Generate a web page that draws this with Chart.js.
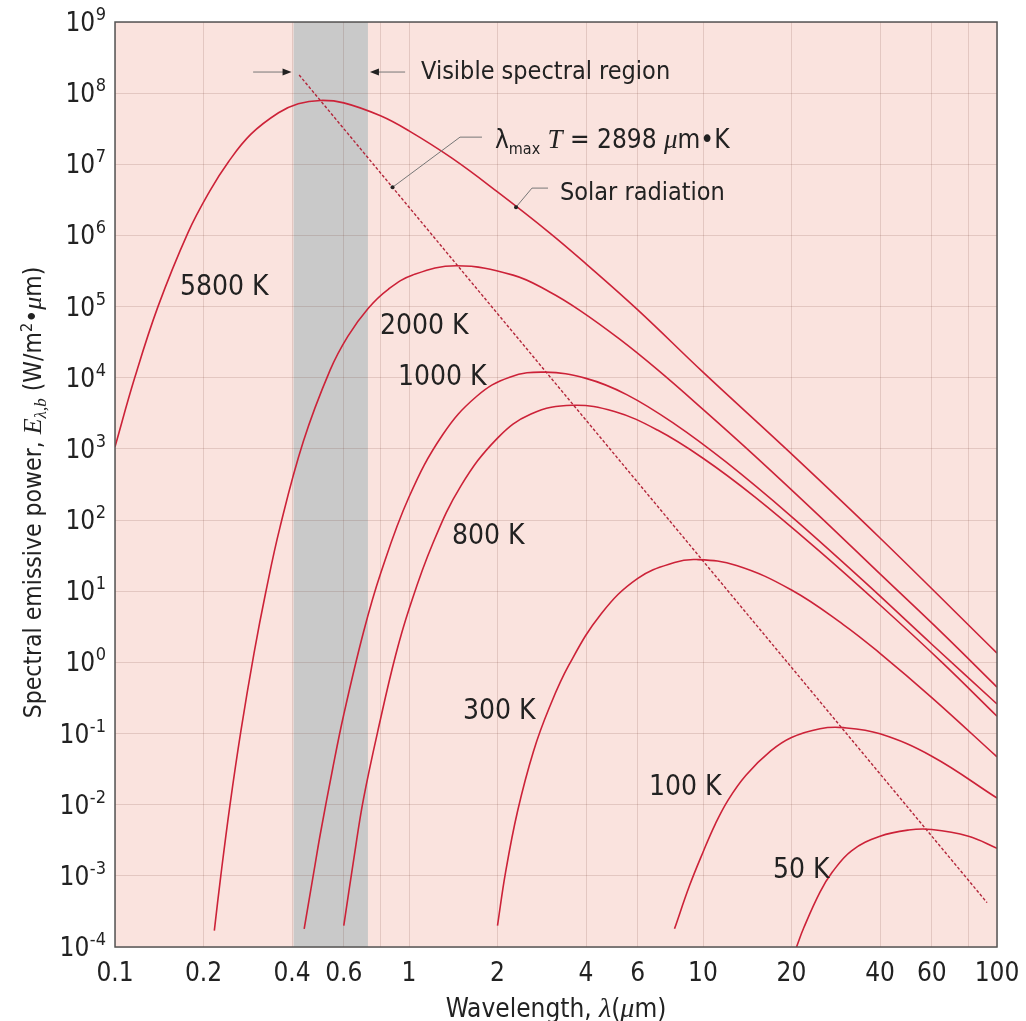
<!DOCTYPE html>
<html>
<head>
<meta charset="utf-8">
<style>
  html, body { margin: 0; padding: 0; background: #fff; }
  #wrap { width: 1026px; height: 1021px; }
</style>
<script src="https://cdn.jsdelivr.net/npm/chart.js@4.4.1/dist/chart.umd.min.js"></script>
</head>
<body>
<div id="wrap"><canvas id="chart" width="1026" height="1021"></canvas></div>
<script>
const SANS = '"DejaVu Sans Condensed", "Liberation Sans Narrow", "Liberation Sans", sans-serif';
const SERIF = '"Liberation Serif", "DejaVu Serif", serif';
const RED = "#cc2238";
const INK = "#222";

// wavelength (um) / spectral emissive power (W/m2.um)
const lam5800 = [0.1, 0.1166, 0.14, 0.177, 0.21, 0.243, 0.29, 0.36, 0.42, 0.5, 0.6, 0.8, 1.0, 1.4, 2, 3, 4, 6, 10, 20, 40, 100];
const e5800 = [1.07e3, 9.9e3, 1.0e5, 1.09e6, 4.2e6, 1.08e7, 2.65e7, 5.3e7, 7.1e7, 7.9e7, 7.3e7, 4.8e7, 2.95e7, 1.22e7, 4.1e6, 1.1e6, 4.0e5, 9.0e4, 1.2e4, 850, 56, 1.35];

const lam2000 = [0.2177, 0.229, 0.246, 0.268, 0.297, 0.3255, 0.364, 0.437, 0.539, 0.62, 0.727, 0.85, 1.03, 1.45, 2.26, 3, 3.82, 5.22, 7, 10, 15, 25, 40, 65, 100];
const e2000 = [1.7e-4, 1e-3, 9.8e-3, 0.108, 1.34, 9.6, 79, 1.27e3, 1.28e4, 3.85e4, 9.5e4, 1.75e5, 2.78e5, 3.75e5, 2.77e5, 1.62e5, 8.8e4, 3.46e4, 1.3e4, 3.6e3, 800, 112, 17.5, 2.6, 0.45];

const lam1000 = [0.44, 0.48, 0.5, 0.55, 0.6, 0.7, 0.8, 1.0, 1.3, 1.7, 2.2, 2.9, 4, 5.5, 8, 12, 20, 35, 60, 100];
const e1000 = [1.8e-4, 1.5e-3, 4e-3, 0.032, 0.185, 2.65, 17.6, 211, 1.57e3, 5.5e3, 1.02e4, 1.2e4, 9.8e3, 5.8e3, 2.25e3, 650, 112, 14.2, 1.8, 0.26];

const lam800 = [0.6, 0.65, 0.7, 0.8, 0.9, 1.0, 1.2, 1.5, 2.0, 2.6, 3.6, 5, 7, 10, 15, 25, 40, 65, 100];
const e800 = [2.0e-4, 1.8e-3, 0.012, 0.16, 1.25, 5.6, 45, 300, 1.42e3, 3.1e3, 4.1e3, 3.35e3, 1.84e3, 740, 212, 36, 6.4, 1.0, 0.175];

const lam300 = [2.0, 2.13, 2.34, 2.65, 3.0, 3.5, 4.5, 6, 8, 9.5, 13, 20, 30, 40, 60, 100];
const e300 = [2.0e-4, 1.12e-3, 8.1e-3, 0.056, 0.23, 0.92, 4.8, 15.2, 25.4, 27.9, 23, 10.4, 3.4, 1.34, 0.32, 0.047];

const lam100 = [8.0, 9, 10, 11, 12.2, 14, 17, 20, 25, 30, 40, 60, 100];
const e100 = [1.8e-4, 7.3e-4, 2.15e-3, 5.3e-3, 0.0118, 0.026, 0.057, 0.088, 0.117, 0.121, 0.099, 0.048, 0.0124];

const lam50 = [20.8, 22, 25, 27.5, 32, 40, 50, 60, 80, 100];
const e50 = [1e-4, 1.85e-4, 5.9e-4, 1.12e-3, 2.25e-3, 3.6e-3, 4.4e-3, 4.48e-3, 3.6e-3, 2.44e-3];

// lambda_max * T = 2898 um.K locus (dashed)
const lamWien = [0.423, 92.5];
const eWien = [1.8e8, 4.2e-4];

const visibleBand = [0.405, 0.725];

const xGrid = [0.1, 0.2, 0.4, 0.6, 0.8, 1, 2, 4, 6, 10, 20, 40, 60, 80, 100];
const xTickLabels = ["0.1", "0.2", "0.4", "0.6", "", "1", "2", "4", "6", "10", "20", "40", "60", "", "100"];
const yExps = [9, 8, 7, 6, 5, 4, 3, 2, 1, 0, -1, -2, -3, -4];

const curveLabels = ["5800 K", "2000 K", "1000 K", "800 K", "300 K", "100 K", "50 K"];
const labelLam = [0.1664, 0.797, 0.917, 1.40, 1.526, 6.55, 17.3];
const labelE = [1.45e5, 4.1e4, 7.85e3, 45.5, 0.1625, 0.01387, 9.44e-4];

const wienLeaderLam = [0.879, 1.491, 1.771];
const wienLeaderE = [4.75e6, 2.41e7, 2.41e7];
const solarLeaderLam = [2.312, 2.62, 2.97];
const solarLeaderE = [2.5e6, 4.63e6, 4.63e6];
const arrowE = 1.98e8;
const arrowTailLam = [0.295, 0.97];

function pts(xs, ys) {
  return xs.map((x, i) => ({ x: x, y: ys[i] }));
}

function curve(label, xs, ys) {
  return {
    label: label,
    data: pts(xs, ys),
    borderColor: RED,
    borderWidth: 1.6,
    pointRadius: 0,
    tension: 0.4,
    fill: false,
  };
}

function drawRuns(ctx, runs, x, y, align) {
  let total = 0;
  runs.forEach((r) => {
    ctx.font = r[1];
    total += ctx.measureText(r[0]).width;
  });
  let cx = align === "center" ? x - total / 2 : x;
  ctx.textAlign = "left";
  ctx.textBaseline = "alphabetic";
  runs.forEach((r) => {
    ctx.font = r[1];
    ctx.fillText(r[0], cx, y + (r[2] || 0));
    cx += ctx.measureText(r[0]).width;
  });
}

function arrowHead(ctx, tipX, y, dir) {
  // dir = +1 points right, -1 points left
  ctx.beginPath();
  ctx.moveTo(tipX, y);
  ctx.lineTo(tipX - dir * 9, y - 3.5);
  ctx.lineTo(tipX - dir * 9, y + 3.5);
  ctx.closePath();
  ctx.fill();
}

const decor = {
  id: "decor",
  beforeDraw(chart) {
    const { ctx, chartArea: a } = chart;
    const X = (v) => chart.scales.x.getPixelForValue(v);
    ctx.save();
    ctx.fillStyle = "#fae3de";
    ctx.fillRect(a.left, a.top, a.right - a.left, a.bottom - a.top);
    ctx.fillStyle = "#c9c9c9";
    ctx.fillRect(X(visibleBand[0]), a.top, X(visibleBand[1]) - X(visibleBand[0]), a.bottom - a.top);
    ctx.restore();
  },
  afterDatasetsDraw(chart) {
    const { ctx, chartArea: a } = chart;
    ctx.save();
    ctx.strokeStyle = "#555";
    ctx.lineWidth = 1.5;
    ctx.strokeRect(a.left, a.top, a.right - a.left, a.bottom - a.top);
    ctx.restore();
  },
  afterDraw(chart) {
    const { ctx, chartArea: a } = chart;
    const X = (v) => chart.scales.x.getPixelForValue(v);
    const Y = (v) => chart.scales.y.getPixelForValue(v);
    ctx.save();
    ctx.fillStyle = INK;

    // x tick labels
    ctx.font = "26px " + SANS;
    ctx.textAlign = "center";
    ctx.textBaseline = "alphabetic";
    xGrid.forEach((v, i) => {
      if (xTickLabels[i]) ctx.fillText(xTickLabels[i], X(v), a.bottom + 34);
    });

    // y tick labels 10^n
    yExps.forEach((e) => {
      const py = Y(Math.pow(10, e));
      const right = a.left - 9;
      ctx.textAlign = "right";
      ctx.font = "18px " + SANS;
      const es = String(e);
      const ew = ctx.measureText(es).width;
      ctx.fillText(es, right, py - 2);
      ctx.font = "26px " + SANS;
      ctx.fillText("10", right - ew - 0.5, py + 9);
    });

    // curve labels
    ctx.font = "28px " + SANS;
    ctx.textAlign = "left";
    curveLabels.forEach((t, i) => {
      ctx.fillText(t, X(labelLam[i]), Y(labelE[i]));
    });

    // leaders
    ctx.strokeStyle = "#777";
    ctx.lineWidth = 1;
    [[wienLeaderLam, wienLeaderE], [solarLeaderLam, solarLeaderE]].forEach((l) => {
      ctx.beginPath();
      l[0].forEach((lam, i) => {
        if (i === 0) ctx.moveTo(X(lam), Y(l[1][i]));
        else ctx.lineTo(X(lam), Y(l[1][i]));
      });
      ctx.stroke();
      ctx.beginPath();
      ctx.arc(X(l[0][0]), Y(l[1][0]), 2, 0, Math.PI * 2);
      ctx.fill();
    });

    // visible region arrows
    const ay = Y(arrowE);
    const x0 = X(visibleBand[0]) - 2;
    const x1 = X(visibleBand[1]) + 2;
    ctx.beginPath();
    ctx.moveTo(X(arrowTailLam[0]), ay);
    ctx.lineTo(x0 - 8, ay);
    ctx.moveTo(X(arrowTailLam[1]), ay);
    ctx.lineTo(x1 + 8, ay);
    ctx.stroke();
    arrowHead(ctx, x0, ay, 1);
    arrowHead(ctx, x1, ay, -1);

    // annotations
    ctx.font = "25px " + SANS;
    ctx.textAlign = "left";
    ctx.fillText("Visible spectral region", X(1.099), Y(1.58e8));
    ctx.fillText("Solar radiation", X(3.263), Y(3.14e6));
    drawRuns(ctx, [
      ["\u03bb", "26px " + SANS],
      ["max", "16px " + SANS, 6],
      [" ", "26px " + SANS],
      ["T", "italic 27px " + SERIF],
      [" = 2898 ", "26px " + SANS],
      ["\u03bc", "italic 27px " + SERIF],
      ["m\u2022K", "26px " + SANS],
    ], X(1.961), Y(1.69e7), "left");

    // x axis title
    drawRuns(ctx, [
      ["Wavelength, ", "26px " + SANS],
      ["\u03bb", "italic 28px " + SERIF],
      ["(", "26px " + SANS],
      ["\u03bc", "italic 28px " + SERIF],
      ["m)", "26px " + SANS],
    ], (a.left + a.right) / 2, 1017, "center");

    // y axis title
    ctx.translate(41, (a.top + a.bottom) / 2 + 8);
    ctx.rotate(-Math.PI / 2);
    drawRuns(ctx, [
      ["Spectral emissive power, ", "24.5px " + SANS],
      ["E", "italic 26px " + SERIF],
      ["\u03bb,b", "italic 17px " + SERIF, 5],
      [" (W/m", "24.5px " + SANS],
      ["2", "16px " + SANS, -9],
      ["\u2022", "24.5px " + SANS],
      ["\u03bc", "italic 26px " + SERIF],
      ["m)", "24.5px " + SANS],
    ], 0, 0, "center");
    ctx.restore();
  },
};

Chart.defaults.font.family = SANS;

new Chart(document.getElementById("chart"), {
  type: "line",
  data: {
    datasets: [
      curve("5800 K", lam5800, e5800),
      curve("2000 K", lam2000, e2000),
      curve("1000 K", lam1000, e1000),
      curve("800 K", lam800, e800),
      curve("300 K", lam300, e300),
      curve("100 K", lam100, e100),
      curve("50 K", lam50, e50),
      {
        label: "Wien",
        data: pts(lamWien, eWien),
        borderColor: "#b3263a",
        borderWidth: 1.4,
        borderDash: [3, 2],
        pointRadius: 0,
        tension: 0,
        fill: false,
      },
    ],
  },
  options: {
    responsive: false,
    animation: false,
    events: [],
    layout: { padding: { left: 115, top: 22, right: 29, bottom: 74 } },
    plugins: { legend: { display: false }, tooltip: { enabled: false } },
    scales: {
      x: {
        type: "logarithmic",
        min: 0.1,
        max: 100,
        afterBuildTicks: (s) => {
          s.ticks = xGrid.map((v) => ({ value: v }));
        },
        ticks: { display: false },
        grid: { color: "rgba(120,70,60,0.18)", drawTicks: false, lineWidth: 1 },
        border: { display: false },
      },
      y: {
        type: "logarithmic",
        min: 1e-4,
        max: 1e9,
        afterBuildTicks: (s) => {
          s.ticks = yExps.map((e) => ({ value: Math.pow(10, e) }));
        },
        ticks: { display: false },
        grid: { color: "rgba(120,70,60,0.18)", drawTicks: false, lineWidth: 1 },
        border: { display: false },
      },
    },
  },
  plugins: [decor],
});
</script>
</body>
</html>
